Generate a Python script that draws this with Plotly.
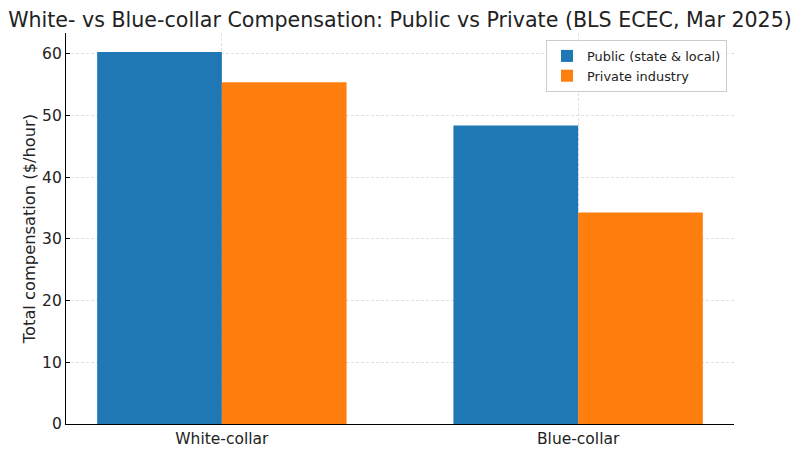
import plotly.graph_objects as go

categories = ["White-collar", "Blue-collar"]
public_vals = [60.3, 48.4]
private_vals = [55.4, 34.3]
series_names = ["Public (state & local)", "Private industry"]
y_ticks = [0, 10, 20, 30, 40, 50, 60]

FONT = "DejaVu Sans"
fig = go.Figure()
fig.add_trace(go.Bar(x=categories, y=public_vals, name=series_names[0],
                     marker=dict(color="#1f77b4", line=dict(width=0))))
fig.add_trace(go.Bar(x=categories, y=private_vals, name=series_names[1],
                     marker=dict(color="#ff7f0e", line=dict(width=0))))

fig.update_layout(
    width=792, height=445,
    paper_bgcolor="white", plot_bgcolor="white",
    barmode="group", bargap=0.3, bargroupgap=0,
    margin=dict(l=58, r=66, t=25, b=29, autoexpand=False),
    font=dict(family=FONT, size=12, color="#222"),
    title=dict(text="White- vs Blue-collar Compensation: Public vs Private (BLS ECEC, Mar 2025)",
               x=0.5, xanchor="center", xref="paper", yref="container", y=0.973, yanchor="middle",
               font=dict(family=FONT, size=20.6, color="#222")),
    legend=dict(x=0.9895, y=0.982, xanchor="right", yanchor="top",
                bgcolor="rgba(255,255,255,0.85)", bordercolor="#cccccc", borderwidth=1,
                font=dict(family=FONT, size=12.9, color="#222"),
                tracegroupgap=0),
    showlegend=True,
)
fig.update_xaxes(
    type="category", range=[-0.4375, 1.4375], automargin=False,
    showline=True, linecolor="black", linewidth=1.2,
    ticks="", ticklabelstandoff=0,
    showgrid=True, gridcolor="#e0e0e0", gridwidth=0.8, griddash="3px,2px",
    tickfont=dict(family=FONT, size=15.5, color="#222"),
    layer="above traces", zeroline=False,
)
fig.update_yaxes(
    range=[0, 63.4], tickvals=y_ticks, automargin=False,
    showline=True, linecolor="black", linewidth=1.2,
    ticks="inside", ticklen=4, tickcolor="black",
    showgrid=True, gridcolor="#e0e0e0", gridwidth=0.8, griddash="3px,2px",
    tickfont=dict(family=FONT, size=15.5, color="#222"),
    title=dict(text="Total compensation ($/hour)", font=dict(family=FONT, size=16.3, color="#222"), standoff=2),
    layer="above traces", zeroline=False,
)
fig.write_html("out.html")
